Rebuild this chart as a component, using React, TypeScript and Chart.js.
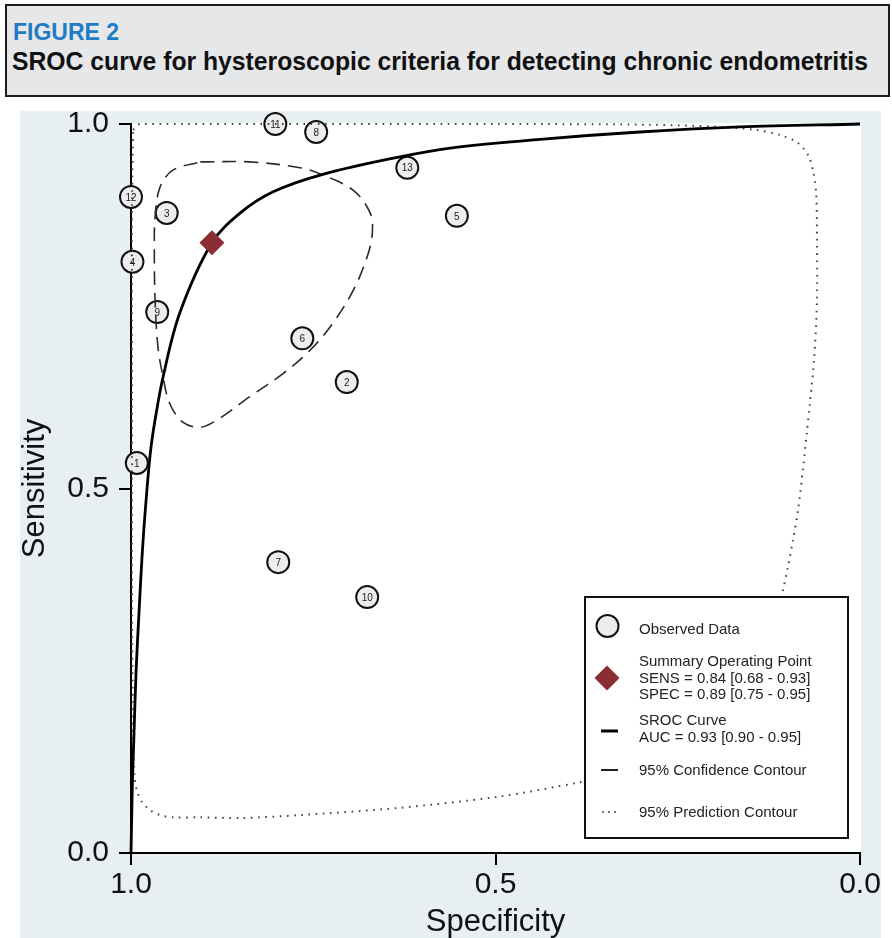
import React, { useEffect, useLayoutEffect, useRef } from 'react';
import { Chart, registerables } from 'chart.js';

Chart.register(...registerables);

// ---------- data ----------
const studyIds = ['1', '2', '3', '4', '5', '6', '7', '8', '9', '10', '11', '12', '13'];
const studySpecificity = [0.992, 0.704, 0.951, 0.998, 0.553, 0.765, 0.798, 0.746, 0.964, 0.676, 0.802, 1.0, 0.621];
const studySensitivity = [0.535, 0.646, 0.878, 0.811, 0.874, 0.706, 0.399, 0.989, 0.742, 0.351, 1.0, 0.9, 0.94];

const summarySpecificity = [0.889];
const summarySensitivity = [0.837];

const srocSpecificity = [1.0, 0.999, 0.998, 0.996, 0.993, 0.989, 0.984, 0.978, 0.973, 0.967, 0.956, 0.933, 0.889, 0.85, 0.805, 0.737, 0.631, 0.562, 0.439, 0.302, 0.165, 0.0];
const srocSensitivity = [0.0, 0.05, 0.1, 0.16, 0.25, 0.33, 0.42, 0.5, 0.553, 0.594, 0.653, 0.741, 0.837, 0.878, 0.907, 0.931, 0.955, 0.967, 0.979, 0.989, 0.996, 1.0];

const confSpecificity = [0.905, 0.837, 0.768, 0.737, 0.695, 0.672, 0.669, 0.676, 0.695, 0.723, 0.754, 0.791, 0.837, 0.882, 0.905, 0.929, 0.947, 0.956, 0.963, 0.967, 0.968, 0.967, 0.96, 0.942, 0.905];
const confSensitivity = [0.948, 0.948, 0.94, 0.93, 0.909, 0.878, 0.85, 0.818, 0.772, 0.727, 0.69, 0.658, 0.626, 0.594, 0.584, 0.591, 0.617, 0.653, 0.694, 0.759, 0.827, 0.872, 0.914, 0.937, 0.948];

const predSpecificity = [0.997, 0.988, 0.768, 0.494, 0.288, 0.192, 0.144, 0.11, 0.085, 0.071, 0.064, 0.06, 0.059, 0.059, 0.063, 0.069, 0.073, 0.078, 0.085, 0.092, 0.099, 0.106, 0.123, 0.151, 0.192, 0.247, 0.384, 0.498, 0.631, 0.768, 0.85, 0.905, 0.942, 0.96, 0.974, 0.985, 0.992, 0.995, 0.997, 0.9986, 0.9986, 0.9986, 0.997];
const predSensitivity = [0.992, 1.0, 1.0, 1.0, 0.999, 0.996, 0.992, 0.985, 0.974, 0.957, 0.934, 0.903, 0.841, 0.759, 0.676, 0.615, 0.576, 0.529, 0.47, 0.429, 0.392, 0.359, 0.292, 0.224, 0.162, 0.125, 0.097, 0.077, 0.062, 0.052, 0.048, 0.049, 0.049, 0.052, 0.059, 0.07, 0.086, 0.104, 0.155, 0.347, 0.621, 0.896, 0.992];

const axisTicks = [0, 0.5, 1];
const xAxisTitle = 'Specificity';
const yAxisTitle = 'Sensitivity';
const figureLabel = 'FIGURE 2';
const figureTitle = 'SROC curve for hysteroscopic criteria for detecting chronic endometritis';

const legendObserved = ['Observed Data'];
const legendSummary = ['Summary Operating Point', 'SENS = 0.84 [0.68 - 0.93]', 'SPEC = 0.89 [0.75 - 0.95]'];
const legendSroc = ['SROC Curve', 'AUC = 0.93 [0.90 - 0.95]'];
const legendConf = ['95% Confidence Contour'];
const legendPred = ['95% Prediction Contour'];

// ---------- helpers ----------
const toXY = (xs: number[], ys: number[]) => xs.map((x, i) => ({ x, y: ys[i] }));
const FONT = "'Liberation Sans', Arial, Helvetica, sans-serif";
const HEAD = "'Liberation Sans', Arial, Helvetica, sans-serif";
const DIAMOND = '#8a2d35';

const backgroundPlugin = {
  id: 'plotBg',
  beforeDraw(chart: any) {
    const { ctx, chartArea } = chart;
    ctx.save();
    ctx.fillStyle = '#ffffff';
    ctx.fillRect(chartArea.left, chartArea.top - 1, chartArea.right - chartArea.left + 1, chartArea.bottom - chartArea.top + 1);
    ctx.restore();
  },
};

const studyLabelPlugin = {
  id: 'studyLabels',
  afterDatasetsDraw(chart: any) {
    const idx = chart.data.datasets.findIndex((d: any) => d.label === 'Observed Data');
    const meta = chart.getDatasetMeta(idx);
    const { ctx } = chart;
    ctx.save();
    ctx.font = `10px ${FONT}`;
    ctx.fillStyle = '#222';
    ctx.textAlign = 'center';
    ctx.textBaseline = 'middle';
    meta.data.forEach((el: any, i: number) => {
      ctx.fillText(studyIds[i], el.x, el.y + 1);
    });
    ctx.restore();
  },
};

const legendPlugin = {
  id: 'customLegend',
  afterDraw(chart: any) {
    const { ctx } = chart;
    const bx = 565, by = 486, bw = 263, bh = 241;
    ctx.save();
    ctx.fillStyle = '#ffffff';
    ctx.fillRect(bx, by, bw, bh);
    ctx.strokeStyle = '#111';
    ctx.lineWidth = 2;
    ctx.strokeRect(bx, by, bw, bh);

    const tx = 619;
    ctx.font = `15px ${FONT}`;
    ctx.fillStyle = '#222';
    ctx.textAlign = 'left';
    ctx.textBaseline = 'middle';
    const writeLines = (lines: string[], y0: number) => {
      lines.forEach((t, i) => ctx.fillText(t, tx, y0 + i * 16.5));
    };

    // observed data
    ctx.beginPath();
    ctx.arc(587.5, 515, 11, 0, Math.PI * 2);
    ctx.fillStyle = '#ececec';
    ctx.fill();
    ctx.lineWidth = 2;
    ctx.strokeStyle = '#111';
    ctx.stroke();
    ctx.fillStyle = '#222';
    writeLines(legendObserved, 519);

    // summary point
    ctx.beginPath();
    ctx.moveTo(587, 554.5);
    ctx.lineTo(599.5, 567);
    ctx.lineTo(587, 579.5);
    ctx.lineTo(574.5, 567);
    ctx.closePath();
    ctx.fillStyle = DIAMOND;
    ctx.fill();
    ctx.fillStyle = '#222';
    writeLines(legendSummary, 551);

    // SROC
    ctx.beginPath();
    ctx.moveTo(581, 620);
    ctx.lineTo(598, 620);
    ctx.lineWidth = 3;
    ctx.strokeStyle = '#000';
    ctx.stroke();
    writeLines(legendSroc, 610);

    // confidence
    ctx.beginPath();
    ctx.moveTo(581, 659);
    ctx.lineTo(598, 659);
    ctx.lineWidth = 2;
    ctx.strokeStyle = '#222';
    ctx.stroke();
    writeLines(legendConf, 660);

    // prediction
    ctx.fillStyle = '#555';
    [583, 589, 595].forEach((x) => ctx.fillRect(x - 0.8, 700, 1.6, 2));
    ctx.fillStyle = '#222';
    writeLines(legendPred, 702);
    ctx.restore();
  },
};

function FitText(props: { text: string; target: number; style: React.CSSProperties }) {
  const ref = useRef<HTMLDivElement>(null);
  useLayoutEffect(() => {
    const fit = () => {
      const el = ref.current;
      if (!el) return;
      el.style.transform = 'none';
      const w = el.getBoundingClientRect().width;
      if (w > 0) el.style.transform = `scaleX(${props.target / w})`;
    };
    fit();
    if ((document as any).fonts && (document as any).fonts.ready) {
      (document as any).fonts.ready.then(fit);
    }
  }, [props.text, props.target]);
  return (
    <div ref={ref} style={{ position: 'absolute', whiteSpace: 'nowrap', transformOrigin: 'left top', lineHeight: 1, ...props.style }}>
      {props.text}
    </div>
  );
}

export default function App() {
  const canvasRef = useRef<HTMLCanvasElement>(null);

  useEffect(() => {
    document.body.style.margin = '0';
    const canvas = canvasRef.current;
    if (!canvas) return;

    const tickFont = { family: FONT, size: 30, lineHeight: 1 };
    const titleFont = { family: FONT, size: 31, lineHeight: 1 };

    const chart = new Chart(canvas, {
      type: 'scatter',
      data: {
        datasets: [
          {
            label: 'Summary Operating Point',
            data: toXY(summarySpecificity, summarySensitivity),
            pointStyle: 'rectRot',
            pointRadius: 12.5,
            pointHoverRadius: 12.5,
            backgroundColor: DIAMOND,
            borderColor: DIAMOND,
            borderWidth: 0,
            showLine: false,
            order: 0,
            clip: false,
          },
          {
            label: 'SROC Curve',
            data: toXY(srocSpecificity, srocSensitivity),
            showLine: true,
            borderColor: '#000',
            borderWidth: 2.8,
            pointRadius: 0,
            pointHoverRadius: 0,
            tension: 0.35,
            fill: false,
            order: 1,
            clip: false,
          },
          {
            label: '95% Confidence Contour',
            data: toXY(confSpecificity, confSensitivity),
            showLine: true,
            borderColor: '#2a2a2a',
            borderWidth: 1.6,
            borderDash: [14, 8],
            pointRadius: 0,
            pointHoverRadius: 0,
            tension: 0.35,
            fill: false,
            order: 1,
            clip: false,
          },
          {
            label: '95% Prediction Contour',
            data: toXY(predSpecificity, predSensitivity),
            showLine: true,
            borderColor: '#444',
            borderWidth: 2,
            borderDash: [1.6, 5.6],
            pointRadius: 0,
            pointHoverRadius: 0,
            tension: 0.3,
            fill: false,
            order: 1,
            clip: false,
          },
          {
            label: 'Observed Data',
            data: toXY(studySpecificity, studySensitivity),
            pointStyle: 'circle',
            pointRadius: 11,
            pointHoverRadius: 11,
            backgroundColor: '#ededed',
            borderColor: '#111',
            borderWidth: 2,
            pointBorderWidth: 2,
            showLine: false,
            order: 2,
            clip: false,
          },
        ],
      } as any,
      options: {
        responsive: false,
        animation: false,
        events: [],
        devicePixelRatio: 1,
        layout: { padding: { left: 0, top: 13, right: 21, bottom: 0 } },
        plugins: {
          legend: { display: false },
          tooltip: { enabled: false },
        },
        scales: {
          x: {
            type: 'linear',
            position: 'bottom',
            reverse: true,
            min: 0,
            max: 1,
            afterBuildTicks: (s: any) => {
              s.ticks = axisTicks.map((v) => ({ value: v }));
            },
            afterFit: (s: any) => {
              s.height = 85;
              s.paddingLeft = 0;
              s.paddingRight = 0;
            },
            border: { display: true, color: '#000', width: 2 },
            grid: { display: true, drawOnChartArea: false, drawTicks: true, tickLength: 12, color: '#000', lineWidth: 2 },
            ticks: {
              callback: (v: any) => Number(v).toFixed(1),
              font: tickFont,
              color: '#111',
              padding: 5,
              maxRotation: 0,
              minRotation: 0,
              autoSkip: false,
            },
            title: { display: true, text: xAxisTitle, font: titleFont, color: '#111', padding: { top: 0, bottom: 0 } },
          },
          y: {
            type: 'linear',
            position: 'left',
            min: 0,
            max: 1,
            z: 1,
            afterBuildTicks: (s: any) => {
              s.ticks = axisTicks.map((v) => ({ value: v }));
            },
            afterFit: (s: any) => {
              s.width = 111;
              s.paddingTop = 0;
              s.paddingBottom = 0;
            },
            border: { display: true, color: '#000', width: 2 },
            grid: { display: true, drawOnChartArea: false, drawTicks: true, tickLength: 12, color: '#000', lineWidth: 2 },
            ticks: {
              callback: (v: any) => Number(v).toFixed(1),
              font: { family: FONT, size: 30, lineHeight: 0.8 },
              color: '#111',
              padding: 10,
              autoSkip: false,
            },
            title: { display: true, text: yAxisTitle, font: titleFont, color: '#111', padding: { top: 0, bottom: 0 } },
          },
        },
      } as any,
      plugins: [backgroundPlugin, studyLabelPlugin, legendPlugin],
    });

    return () => chart.destroy();
  }, []);

  return (
    <div style={{ position: 'relative', width: 892, height: 938, overflow: 'hidden', background: '#ffffff' }}>
      <div
        style={{
          position: 'absolute',
          left: 5,
          top: 4,
          width: 885,
          height: 93,
          boxSizing: 'border-box',
          border: '2px solid #1c1c1c',
          background: '#e6e7e9',
        }}
      >
        <FitText
          text={figureLabel}
          target={106}
          style={{ left: 6, top: 15, fontFamily: HEAD, fontWeight: 700, fontSize: 23, color: '#1f7cc4' }}
        />
        <FitText
          text={figureTitle}
          target={856}
          style={{ left: 5, top: 42, fontFamily: HEAD, fontWeight: 700, fontSize: 26, color: '#111' }}
        />
      </div>
      <div style={{ position: 'absolute', left: 20, top: 111, width: 861, height: 827, background: '#e7eff2' }}>
        <canvas ref={canvasRef} width={861} height={827} style={{ display: 'block', width: 861, height: 827 }} />
      </div>
    </div>
  );
}
